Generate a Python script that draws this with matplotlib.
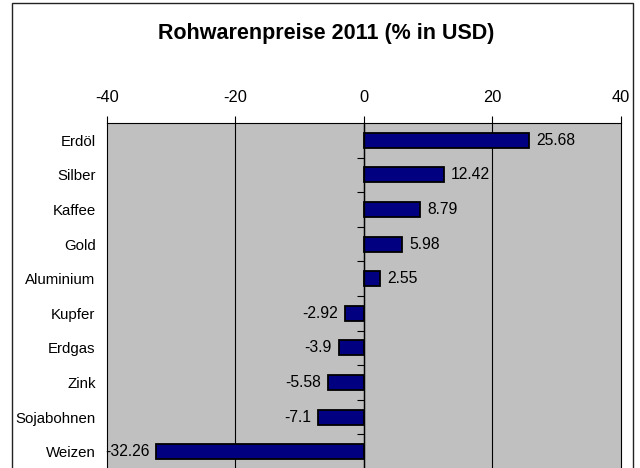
import numpy as np
import matplotlib
matplotlib.use('Agg')
from matplotlib import pyplot as plt
from matplotlib.patches import Rectangle

plt.rcParams['font.family'] = ['Liberation Sans', 'DejaVu Sans']
plt.rcParams['axes.unicode_minus'] = False

# data
categories = ['Erdöl', 'Silber', 'Kaffee', 'Gold', 'Aluminium',
              'Kupfer', 'Erdgas', 'Zink', 'Sojabohnen', 'Weizen']
values = [25.68, 12.42, 8.79, 5.98, 2.55, -2.92, -3.9, -5.58, -7.1, -32.26]
xticks = [-40, -20, 0, 20, 40]
title = 'Rohwarenpreise 2011 (% in USD)'

fig = plt.figure(figsize=(6.4, 4.68), dpi=100)
ax = fig.add_axes([0.1667, -0.0021, 0.8036, 0.7393])
ax.set_facecolor('#C0C0C0')

ypos = np.arange(len(categories))
bars = ax.barh(ypos, values, height=0.43, color='#000080',
               edgecolor='black', linewidth=1.3, zorder=3)
ax.bar_label(bars, labels=['%g' % v for v in values], padding=5, fontsize=11.3)

# grid and zero line
for xv in xticks[1:-1]:
    ax.axvline(xv, color='black', lw=0.8, zorder=1)
ax.axvline(0, color='black', lw=1.0, zorder=4)
# small ticks at the category boundaries on the zero line
bounds = ypos[:-1] + 0.5
ax.plot(np.zeros(len(bounds)), bounds, ls='none', marker=0, ms=5, mew=0.8,
        color='black', zorder=4, clip_on=False)

ax.set_xlim(xticks[0], xticks[-1])
ax.set_ylim(len(categories) - 0.5, -0.5)
ax.set_xticks(xticks)
ax.xaxis.tick_top()
ax.tick_params(axis='x', direction='out', length=5, width=0.8, labelsize=11.8, pad=8)
ax.set_yticks(ypos)
ax.set_yticklabels(categories)
ax.tick_params(axis='y', length=0, labelsize=10.8, pad=8)
for s in ax.spines.values():
    s.set_color('black')
    s.set_linewidth(0.8)

fig.text(0.509, 1 - 38.5 / 468, title, ha='center', va='baseline',
         fontsize=15.5, fontweight='bold')

fig.patches.append(Rectangle((11.7 / 640, -0.05), 621 / 640, 1 - 2.7 / 468 + 0.05,
                             transform=fig.transFigure, fill=False,
                             edgecolor='#222222', lw=1.0))

fig.savefig('out.png', dpi=100)
